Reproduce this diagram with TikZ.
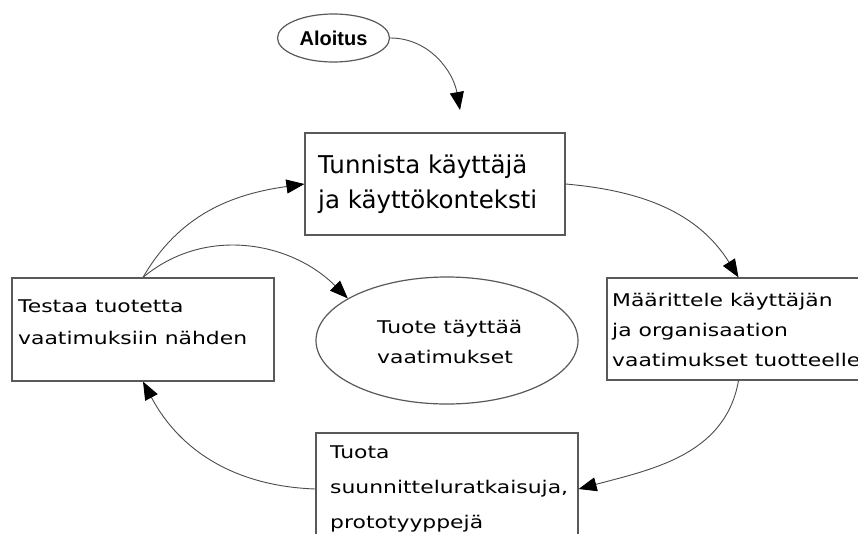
\documentclass[tikz,border=0pt]{standalone}
\usepackage{fontspec}
\setmainfont{DejaVu Sans}
\newfontfamily\boxfont[FakeStretch=1.25]{DejaVu Sans}
\newfontfamily\bigboxfont{DejaVu Sans}
\newfontfamily\startfont{Liberation Sans}
\usetikzlibrary{arrows.meta,shapes.geometric}
\begin{document}
\begin{tikzpicture}[x=1pt,y=1pt,
  box/.style={draw=black!65, line width=1.2pt, rectangle, inner sep=0pt},
  oval/.style={draw=black!65, line width=1.2pt, ellipse, inner sep=0pt},
  flow/.style={draw=black!70, line width=0.9pt, -{Triangle[length=18pt,width=14pt,color=black]}},
  txt/.style={anchor=base west, inner sep=0pt, font=\boxfont\fontsize{17.5}{30}\selectfont},
  bigtxt/.style={anchor=base west, inner sep=0pt, font=\bigboxfont\fontsize{24.5}{32}\selectfont},
]
\useasboundingbox (0,0) rectangle (858,-533);
\clip (0,0) rectangle (858,-533);
\fill[white] (0,0) rectangle (858,-533);

% start
\node[oval, minimum width=112pt, minimum height=48pt, font=\startfont\bfseries\fontsize{20}{22}\selectfont] (start) at (333.5,-38) {Aloitus};
\coordinate (entry) at (460,-110);

% boxes
\node[box, minimum width=260pt, minimum height=102pt] (tun) at (435,-184) {};
\node[box, minimum width=263pt, minimum height=102pt] (maa) at (738.5,-329) {};
\node[box, minimum width=262pt, minimum height=103pt] (tes) at (143,-329.5) {};
\node[box, minimum width=262pt, minimum height=112pt] (tuo) at (447,-489) {};
\node[oval, minimum width=262pt, minimum height=127pt] (ell) at (447,-340.5) {};

% texts
\node[bigtxt] (t1a) at (318,-173) {Tunnista käyttäjä};
\node[bigtxt] (t1b) at (318,-208) {ja käyttökonteksti};
\node[txt] (t2a) at (612,-306) {Määrittele käyttäjän};
\node[txt] (t2b) at (612,-336) {ja organisaation};
\node[txt] (t2c) at (612,-366) {vaatimukset tuotteelle};
\node[txt] (t3a) at (18,-312) {Testaa tuotetta};
\node[txt] (t3b) at (18,-344) {vaatimuksiin nähden};
\node[txt] (t4a) at (377,-333) {Tuote täyttää};
\node[txt] (t4b) at (377,-363) {vaatimukset};
\node[txt] (t5a) at (330,-458) {Tuota};
\node[txt] (t5b) at (330,-493) {suunnitteluratkaisuja,};
\node[txt] (t5c) at (330,-528) {prototyyppejä};

% connectors
\draw[flow] (start.east) to[out=0, in=100] (entry);
\draw[flow] (tun.east) to[out=-5, in=122] (maa.north);
\draw[flow] (maa.south) to[out=-100, in=15] (tuo.east);
\draw[flow] (tuo.west) to[out=178, in=-62] (tes.south);
\draw[flow] (tes.north) to[out=60, in=188] (tun.west);
\draw[flow] (tes.north) to[out=40, in=135] (ell.157);
\end{tikzpicture}
\end{document}
